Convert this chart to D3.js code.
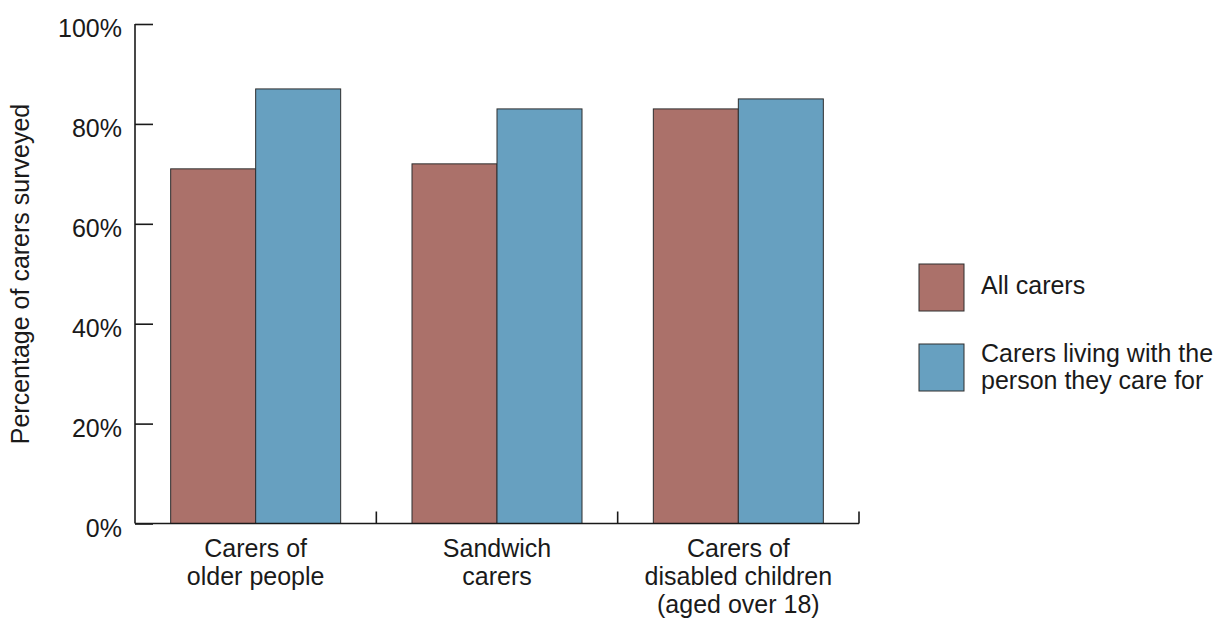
<!DOCTYPE html>
<html><head><meta charset="utf-8">
<script src="https://cdn.jsdelivr.net/npm/d3@7"></script>
<style>body{margin:0;background:#fff}svg{display:block}text{font-family:"Liberation Sans",Arial,Helvetica,sans-serif;fill:#1a1a1a}</style>
</head><body><svg id="c" width="1219" height="622"></svg>
<script>
const categories = [["Carers of","older people"],["Sandwich","carers"],["Carers of","disabled children","(aged over 18)"]];
const seriesNames = [["All carers"], ["Carers living with the","person they care for"]];
const allCarers = [71, 72, 83];
const livingWith = [87, 83, 85];
const yTicks = [0, 20, 40, 60, 80, 100];
const colors = ["#ab716a", "#67a0c0"];

(function(){
const svg = d3.select("#c");
const FS = 25;
const mLeft = 135, mRight = 859, mTop = 24, mBottom = 523.5;
const x = d3.scaleBand().domain(d3.range(categories.length)).range([mLeft, mRight]).paddingInner(0).paddingOuter(0);
const xs = d3.scaleBand().domain([0,1]).range([0, 170]);
const y = d3.scaleLinear().domain([0,100]).range([mBottom, mTop]);

const series = [allCarers, livingWith];
series.forEach((vals, si) => {
  svg.append("g").selectAll("rect").data(vals).join("rect")
    .attr("x", (d,i) => x(i) + (x.bandwidth()-170)/2 + xs(si))
    .attr("y", d => y(d))
    .attr("width", xs.bandwidth())
    .attr("height", d => mBottom - y(d))
    .attr("fill", colors[si]).attr("stroke", "#2e2e2e").attr("stroke-width", 1);
});

const ya = svg.append("g").attr("transform", `translate(${mLeft},0)`)
  .call(d3.axisRight(y).tickValues(yTicks).tickSize(18).tickFormat(d => ""));
ya.select(".domain").remove();
ya.selectAll(".tick line").attr("stroke", "#1a1a1a").attr("stroke-width", 1.6);
svg.append("line").attr("x1", mLeft).attr("x2", mLeft).attr("y1", mTop).attr("y2", mBottom)
  .attr("stroke", "#1a1a1a").attr("stroke-width", 1.6);
svg.append("g").selectAll("text").data(yTicks).join("text")
  .attr("x", 122).attr("y", d => y(d) + 13)
  .attr("text-anchor", "end").attr("font-size", FS).text(d => d + "%");

svg.append("line").attr("x1", mLeft).attr("x2", mRight).attr("y1", mBottom).attr("y2", mBottom)
  .attr("stroke", "#1a1a1a").attr("stroke-width", 1.6);
svg.append("g").selectAll("line").data(d3.range(categories.length)).join("line")
  .attr("x1", i => x(i) + x.bandwidth()).attr("x2", i => x(i) + x.bandwidth())
  .attr("y1", mBottom).attr("y2", mBottom - 12)
  .attr("stroke", "#1a1a1a").attr("stroke-width", 1.6);
categories.forEach((lines, i) => {
  const t = svg.append("text").attr("text-anchor", "middle").attr("font-size", FS);
  lines.forEach((l, j) => t.append("tspan").attr("x", x(i) + x.bandwidth()/2).attr("y", 557 + j*28).text(l));
});

svg.append("text").attr("transform", "translate(29,274) rotate(-90)")
  .attr("text-anchor", "middle").attr("font-size", FS).text("Percentage of carers surveyed");

const legY = [264, 344];
const legBase = [[294], [362, 389]];
seriesNames.forEach((lab, i) => {
  svg.append("rect").attr("x", 919).attr("y", legY[i]).attr("width", 45).attr("height", 47)
    .attr("fill", colors[i]).attr("stroke", "#2e2e2e").attr("stroke-width", 1);
  const t = svg.append("text").attr("font-size", FS);
  lab.forEach((l, j) => t.append("tspan").attr("x", 981).attr("y", legBase[i][j]).text(l));
});
})();
</script></body></html>
